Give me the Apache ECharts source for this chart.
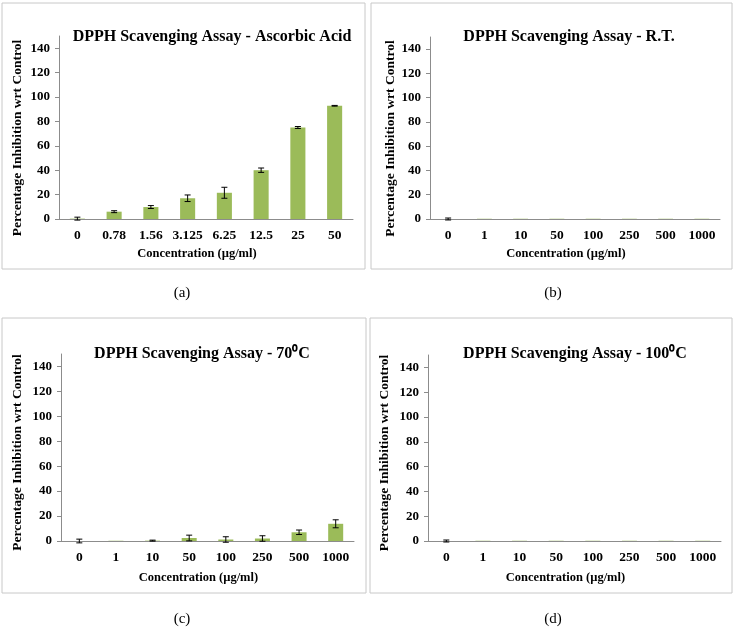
<!DOCTYPE html>
<html>
<head>
<meta charset="utf-8">
<script src="https://cdn.jsdelivr.net/npm/echarts@6/dist/echarts.min.js"></script>
<style>
  html, body { margin: 0; padding: 0; background: #fff; }
  #main { width: 734px; height: 628px; }
</style>
</head>
<body>
<div id="main"></div>
<script>
// concentrations
const catsAA = ['0', '0.78', '1.56', '3.125', '6.25', '12.5', '25', '50']
const catsExt = ['0', '1', '10', '50', '100', '250', '500', '1000']
const yTicks = [0, 20, 40, 60, 80, 100, 120, 140]

// % inhibition and error (+/-)
const valA = [0.3, 6.0, 9.8, 17.0, 21.5, 40.0, 75.0, 92.8]
const errA = [1.2, 0.8, 1.2, 2.7, 4.5, 1.8, 0.8, 0.3]
const valB = [0, 0.2, 0.2, 0.2, 0.2, 0.2, 0.2, 0.2]
const errB = [0.8, 0, 0, 0, 0, 0, 0, 0]
const valC = [0, 0.2, 0.3, 2.4, 1.2, 2.0, 7.0, 13.8]
const errC = [1.5, 0, 0.4, 2.3, 2.2, 2.2, 1.8, 3.2]
const valD = [0, 0.2, 0.2, 0.2, 0.2, 0.2, 0.2, 0.2]
const errD = [0.8, 0, 0, 0, 0, 0, 0, 0]

const titles = [
  'DPPH Scavenging Assay - Ascorbic Acid',
  'DPPH Scavenging Assay - R.T.',
  'DPPH Scavenging Assay - 70⁰C',
  'DPPH Scavenging Assay - 100⁰C'
]
const panelNames = ['(a)', '(b)', '(c)', '(d)']

const myChart = echarts.init(document.getElementById('main'))

const serif = '"Liberation Serif", "Times New Roman", serif'
const green = '#9BBB59'
const axisGray = '#8c8c8c'

// plot areas of the four panels
const grids = [
  { left: 59, top: 36, width: 294, height: 183 },
  { left: 430, top: 37, width: 290, height: 182 },
  { left: 61, top: 354, width: 293, height: 187 },
  { left: 428, top: 355, width: 293, height: 186 }
]
const titlePos = [[207, 24], [564, 24], [197, 341], [570, 341]]
const yNameGap = [34, 31, 36, 36]
const yNamePad = [21, 21, 10, 10]
const xNameGap = [28, 28, 30, 30]
const catsList = [catsAA, catsExt, catsExt, catsExt]
const vals = [valA, valB, valC, valD]
const errs = [errA, errB, errC, errD]

function errorBar(idx) {
  return {
    type: 'custom',
    xAxisIndex: idx,
    yAxisIndex: idx,
    z: 5,
    data: vals[idx].map((v, i) => [i, v, errs[idx][i]]),
    renderItem: function (params, api) {
      const x = api.value(0)
      const v = api.value(1)
      const e = api.value(2)
      if (!e) return
      const hi = api.coord([x, v + e])
      const lo = api.coord([x, v - e])
      const w = 3
      const st = { stroke: '#000', lineWidth: 1 }
      return {
        type: 'group',
        children: [
          { type: 'line', shape: { x1: hi[0], y1: hi[1], x2: lo[0], y2: lo[1] }, style: st },
          { type: 'line', shape: { x1: hi[0] - w, y1: hi[1], x2: hi[0] + w, y2: hi[1] }, style: st },
          { type: 'line', shape: { x1: lo[0] - w, y1: lo[1], x2: lo[0] + w, y2: lo[1] }, style: st }
        ]
      }
    }
  }
}

const option = {
  backgroundColor: '#fff',
  animation: false,
  title: titles.map((t, i) => ({
    text: t,
    left: titlePos[i][0],
    top: titlePos[i][1],
    textAlign: 'center',
    textStyle: { fontFamily: serif, fontSize: 16, fontWeight: 'bold', color: '#000' }
  })),
  grid: grids,
  xAxis: grids.map((g, i) => ({
    type: 'category',
    gridIndex: i,
    data: catsList[i],
    name: 'Concentration (µg/ml)',
    nameLocation: 'middle',
    nameGap: xNameGap[i],
    nameTextStyle: { fontFamily: serif, fontSize: 12.5, fontWeight: 'bold', color: '#000', padding: [0, 18, 0, 0] },
    axisLine: { lineStyle: { color: axisGray } },
    axisTick: { show: false },
    axisLabel: { fontFamily: serif, fontSize: 13.5, fontWeight: 'bold', color: '#000', margin: 10, interval: 0 }
  })),
  yAxis: grids.map((g, i) => ({
    type: 'value',
    gridIndex: i,
    min: 0,
    max: 150,
    interval: 10,
    name: 'Percentage Inhibition wrt Control',
    nameLocation: 'middle',
    nameGap: yNameGap[i],
    nameTextStyle: { fontFamily: serif, fontSize: 13.5, fontWeight: 'bold', color: '#000', padding: [0, yNamePad[i], 0, 0] },
    splitLine: { show: false },
    axisLine: { show: true, lineStyle: { color: axisGray } },
    axisTick: { show: true, length: 4, customValues: yTicks, lineStyle: { color: axisGray } },
    axisLabel: { fontFamily: serif, fontSize: 13, fontWeight: 'bold', color: '#000', margin: 9, customValues: yTicks }
  })),
  series: vals.map((v, i) => ({
    type: 'bar',
    xAxisIndex: i,
    yAxisIndex: i,
    data: v,
    barWidth: '41%',
    itemStyle: { color: green }
  })).concat(vals.map((v, i) => errorBar(i))),
  graphic: [
    { type: 'rect', shape: { x: 2, y: 3, width: 363, height: 266 }, style: { fill: 'none', stroke: '#c8c8c8', lineWidth: 1 }, z: -1 },
    { type: 'rect', shape: { x: 371, y: 3, width: 361, height: 266 }, style: { fill: 'none', stroke: '#c8c8c8', lineWidth: 1 }, z: -1 },
    { type: 'rect', shape: { x: 2, y: 318, width: 364, height: 275 }, style: { fill: 'none', stroke: '#c8c8c8', lineWidth: 1 }, z: -1 },
    { type: 'rect', shape: { x: 370, y: 318, width: 362, height: 275 }, style: { fill: 'none', stroke: '#c8c8c8', lineWidth: 1 }, z: -1 }
  ].concat(panelNames.map((n, i) => ({
    type: 'text',
    x: i % 2 === 0 ? 182 : 553,
    y: i < 2 ? 293 : 619,
    style: { text: n, font: '15px ' + serif, fill: '#000', textAlign: 'center', textVerticalAlign: 'middle' }
  })))
}

myChart.setOption(option)
</script>
</body>
</html>
